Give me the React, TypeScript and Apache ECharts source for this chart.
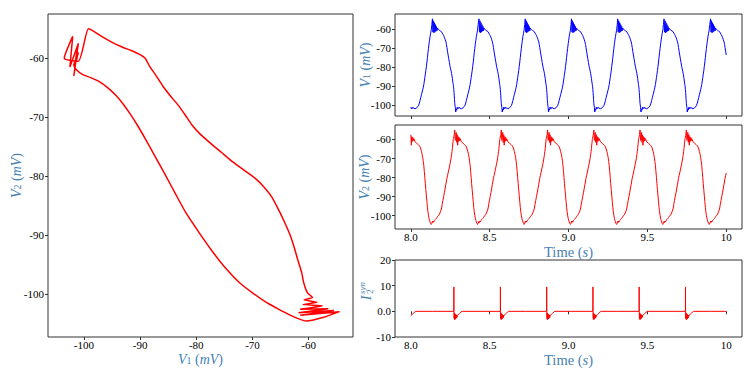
import React, { useEffect, useRef } from 'react';
import * as echarts from 'echarts';

// One limit cycle: time offset (ms) from each V1 peak, V1 and V2 (mV)
const cycleMs = [
  0, 3.2, 6.3, 9.5, 12.7, 15.8, 19.0, 22.2, 25.3, 28.5, 31.6,
  36.1, 40.0, 44.3, 50.6, 57.0, 62.0, 66.5, 71.0, 75.9, 80.0, 85.4, 89.0, 91.8, 95.5, 99.4,
  103.5, 107.6, 111.5, 115.2, 118.5, 121.5, 124.0, 126.6, 128.5, 130.4, 132.0, 133.5, 135.4,
  137.0, 138.5, 139.9, 141.0, 141.8,
  144.9, 147.5, 150.6, 153.8, 157.0, 160.1, 163.3, 166.5, 169.6, 172.8, 175.9,
  183.5, 194.3, 205.1, 211.0, 215.2, 220.0, 224.7, 228.5, 232.3, 235.8, 239.2, 242.4, 245.6,
  248.7, 251.9, 255.4, 258.9, 262.0, 265.2, 268.7, 272.2, 275.3, 278.5, 282.3, 286.1, 290.0,
];
const cycleV1 = [
  -54.5, -61.5, -55.5, -61.8, -56.5, -61.5, -57.5, -61.0, -58.5, -60.8, -59.3,
  -60.0, -60.2, -60.5, -60.9, -61.2, -62.0, -62.6, -63.3, -64.2, -65.2, -66.6, -68.0, -69.5, -71.5, -73.5,
  -75.5, -77.5, -79.4, -80.8, -82.0, -83.2, -84.6, -85.9, -87.2, -88.3, -89.1, -90.0, -91.6,
  -93.2, -95.0, -97.0, -98.3, -99.2,
  -101.0, -103.5, -102.0, -102.5, -101.0, -101.8, -101.2, -101.6, -101.0, -101.4, -101.2,
  -101.8, -101.3, -100.2, -98.8, -97.4, -95.8, -94.2, -93.0, -91.8, -90.4, -89.0, -87.2, -85.4,
  -83.6, -81.8, -79.5, -77.2, -74.8, -72.4, -70.0, -67.6, -65.7, -63.9, -62.1, -60.4, -57.5,
];
const cycleV2 = [
  -103.0, -103.6, -102.8, -103.2, -102.5, -102.6, -102.0, -101.8, -101.4, -101.0, -100.6,
  -100.0, -99.8, -99.2, -98.0, -96.5, -94.0, -92.0, -90.0, -88.0, -86.0, -83.5, -81.8, -80.4, -79.0, -77.6,
  -76.0, -74.4, -72.8, -71.3, -69.6, -68.0, -66.4, -64.8, -62.9, -61.4, -60.0, -59.4, -58.7,
  -58.1, -57.3, -56.2, -55.4, -55.0,
  -60.5, -60.0, -56.3, -61.5, -57.5, -63.0, -58.5, -61.0, -59.0, -60.6, -59.6,
  -61.2, -62.0, -62.8, -63.3, -63.9, -65.0, -66.4, -67.8, -69.4, -71.5, -73.8, -76.9, -80.0,
  -83.2, -86.3, -89.6, -92.7, -95.6, -98.0, -99.8, -101.4, -102.4, -103.3, -104.1, -104.6, -104.0,
];

// Synaptic current over one cycle (ms offset from V1 peak)
const isynMs = [0, 135.5, 136.0, 136.5, 137.5, 139.0, 140.5, 142.0, 143.5, 145.0, 146.5, 148.0, 149.5, 151.0, 152.5, 154.0, 155.5, 157.0, 160.0, 165.0, 172.0, 180.0, 188.0];
const isynVal = [0, 0, 9.5, 0, -2.8, -0.6, -3.2, -0.9, -3.1, -1.1, -2.9, -1.3, -2.7, -1.4, -2.5, -1.5, -2.3, -1.6, -1.8, -1.3, -0.8, -0.3, 0];

// V1 peak times (s)
const peakTimes = [7.8436, 8.1373, 8.4323, 8.7259, 9.019, 9.312, 9.6057, 9.9006];
const tStart = 8.0;
const tEnd = 10.0;
const isynEndValue = 0;

const timeTicks = [8.0, 8.5, 9.0, 9.5, 10];
const vTicks = [-100, -90, -80, -70, -60];
const iTicks = [-10, 0, 10, 20];

const v1Series: number[][] = [];
const v2Series: number[][] = [];
const phase: number[][] = [];
peakTimes.forEach((p) => {
  cycleMs.forEach((ms, i) => {
    const t = p + ms / 1000;
    if (t >= tStart && t <= tEnd + 0.0005) {
      v1Series.push([t, cycleV1[i]]);
      v2Series.push([t, cycleV2[i]]);
      phase.push([cycleV1[i], cycleV2[i]]);
    }
  });
});
const isynSeries: number[][] = [];
peakTimes.forEach((p) => {
  isynMs.forEach((ms, i) => {
    const t = p + ms / 1000;
    if (t >= tStart && t <= tEnd) isynSeries.push([t, isynVal[i]]);
  });
});
isynSeries.push([tEnd, isynEndValue]);

const FONT = 'Liberation Serif';
const LBL = '#4682b4';
const richV = {
  i: { fontFamily: FONT, color: LBL, fontSize: 14, fontStyle: 'italic', lineHeight: 12 },
  t: { fontFamily: FONT, color: LBL, fontSize: 14, lineHeight: 12 },
  s: { fontFamily: FONT, color: LBL, fontSize: 10, lineHeight: 6, verticalAlign: 'bottom' },
};
const richT = {
  i: { fontFamily: FONT, color: LBL, fontSize: 14.5, fontStyle: 'italic', lineHeight: 12 },
  t: { fontFamily: FONT, color: LBL, fontSize: 14.5, lineHeight: 12 },
};

const tickLabel = { fontFamily: FONT, fontSize: 11, lineHeight: 10, color: '#000', margin: 4 };
const xTickLabel = { ...tickLabel, margin: 3 };
const tickStyle = { show: true, length: 3, lineStyle: { color: '#333', width: 1 } };

function valueAxis(extra: any, rich: any = richV) {
  return {
    type: 'value',
    axisLine: { show: false },
    splitLine: { show: false },
    nameMoveOverlap: false,
    nameTextStyle: { rich },
    ...extra,
  };
}

const timeFmt = (v: number) => (v === 10 ? '10' : v.toFixed(1));
const iFmt = (v: number) => (v === 0 ? '0.0' : String(v));

const option: any = {
  animation: false,
  backgroundColor: '#fff',
  grid: [
    { left: 48, top: 14, width: 305, height: 323, show: true, borderColor: '#333', borderWidth: 1 },
    { left: 395, top: 14, width: 347, height: 102, show: true, borderColor: '#333', borderWidth: 1 },
    { left: 395, top: 125, width: 347, height: 104, show: true, borderColor: '#333', borderWidth: 1 },
    { left: 395, top: 260, width: 347, height: 77, show: true, borderColor: '#333', borderWidth: 1 },
  ],
  xAxis: [
    valueAxis({
      gridIndex: 0, min: -106.4, max: -52.1,
      axisTick: { ...tickStyle, customValues: vTicks },
      axisLabel: { ...xTickLabel, customValues: vTicks },
      name: '{i|V}{s|1}{t| (}{i|mV}{t|)}', nameLocation: 'middle', nameGap: 16,
    }),
    valueAxis({
      gridIndex: 1, min: 7.9, max: 10.1,
      axisTick: { ...tickStyle, customValues: timeTicks },
      axisLabel: { show: false, customValues: timeTicks },
    }),
    valueAxis({
      gridIndex: 2, min: 7.9, max: 10.1,
      axisTick: { ...tickStyle, customValues: timeTicks },
      axisLabel: { ...xTickLabel, customValues: timeTicks, formatter: timeFmt },
      name: '{t|Time (}{i|s}{t|)}', nameLocation: 'middle', nameGap: 17,
    }, richT),
    valueAxis({
      gridIndex: 3, min: 7.9, max: 10.1,
      axisTick: { ...tickStyle, customValues: timeTicks },
      axisLabel: { ...xTickLabel, customValues: timeTicks, formatter: timeFmt },
      name: '{t|Time (}{i|s}{t|)}', nameLocation: 'middle', nameGap: 17,
    }, richT),
  ],
  yAxis: [
    valueAxis({
      gridIndex: 0, min: -107.3, max: -52.5,
      axisTick: { ...tickStyle, customValues: vTicks },
      axisLabel: { ...tickLabel, customValues: vTicks },
      name: '{i|V}{s|2}{t| (}{i|mV}{t|)}', nameLocation: 'middle', nameRotate: 90, nameGap: 26,
    }),
    valueAxis({
      gridIndex: 1, min: -105.6, max: -51.95,
      axisTick: { ...tickStyle, customValues: vTicks },
      axisLabel: { ...tickLabel, customValues: vTicks },
      name: '{i|V}{s|1}{t| (}{i|mV}{t|)}', nameLocation: 'middle', nameRotate: 90, nameGap: 24,
    }),
    valueAxis({
      gridIndex: 2, min: -107.0, max: -52.4,
      axisTick: { ...tickStyle, customValues: vTicks },
      axisLabel: { ...tickLabel, customValues: vTicks },
      name: '{i|V}{s|2}{t| (}{i|mV}{t|)}', nameLocation: 'middle', nameRotate: 90, nameGap: 25,
    }),
    valueAxis({
      gridIndex: 3, min: -10, max: 20, interval: 10,
      axisTick: { ...tickStyle, customValues: iTicks },
      axisLabel: { ...tickLabel, customValues: iTicks, formatter: iFmt },
    }),
  ],
  graphic: [
    {
      type: 'group', x: 366, y: 298, rotation: Math.PI / 2,
      children: [
        { type: 'text', x: 0, y: 0, style: { text: 'I', fontFamily: FONT, fontSize: 14, fontStyle: 'italic', fill: LBL, align: 'center', verticalAlign: 'middle' } },
        { type: 'text', x: 4, y: -4, style: { text: 'syn', fontFamily: FONT, fontSize: 9, fontStyle: 'italic', fill: LBL, align: 'left', verticalAlign: 'middle' } },
        { type: 'text', x: 4, y: 4, style: { text: '2', fontFamily: FONT, fontSize: 9, fill: LBL, align: 'left', verticalAlign: 'middle' } },
      ],
    },
  ],
  series: [
    { type: 'line', xAxisIndex: 0, yAxisIndex: 0, data: phase, symbol: 'none', smooth: 0.2, lineStyle: { color: '#ff0000', width: 1.5 }, itemStyle: { color: '#ff0000' }, silent: true },
    { type: 'line', xAxisIndex: 1, yAxisIndex: 1, data: v1Series, symbol: 'none', lineStyle: { color: '#0000ff', width: 1 }, itemStyle: { color: '#0000ff' }, silent: true },
    { type: 'line', xAxisIndex: 2, yAxisIndex: 2, data: v2Series, symbol: 'none', lineStyle: { color: '#ff0000', width: 1 }, itemStyle: { color: '#ff0000' }, silent: true },
    { type: 'line', xAxisIndex: 3, yAxisIndex: 3, data: isynSeries, symbol: 'none', lineStyle: { color: '#ff0000', width: 1 }, itemStyle: { color: '#ff0000' }, silent: true },
  ],
};

export default function App() {
  const ref = useRef<HTMLDivElement>(null);
  useEffect(() => {
    const chart = echarts.init(ref.current!, undefined, { renderer: 'svg' });
    chart.setOption(option);
    return () => chart.dispose();
  }, []);
  return (
    <div
      ref={ref}
      style={{ position: 'fixed', left: 0, top: 0, width: 752, height: 371, background: '#fff' }}
    />
  );
}
